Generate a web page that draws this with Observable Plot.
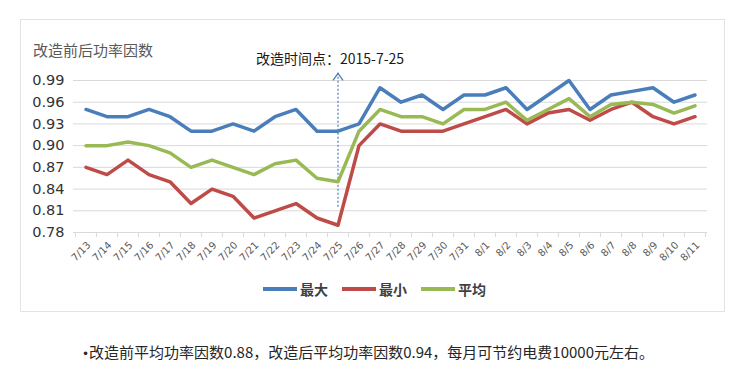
<!DOCTYPE html>
<html><head><meta charset="utf-8">
<script src="https://cdn.jsdelivr.net/npm/d3@7"></script>
<script src="https://cdn.jsdelivr.net/npm/@observablehq/plot@0.6"></script>
<style>
body{margin:0;background:#fff;width:746px;height:369px;position:relative;overflow:hidden;font-family:"Noto Sans CJK SC",sans-serif;}
#box{position:absolute;left:20px;top:19px;width:703px;height:291px;border:1px solid #e3e3e3;}
#title{position:absolute;left:33px;top:39px;font-size:15px;color:#595959;line-height:22px;white-space:nowrap;}
#note{position:absolute;left:256px;top:47px;font-size:14px;color:#1a1a1a;line-height:22px;white-space:nowrap;}
#chart{position:absolute;left:0;top:0;}
#legend{position:absolute;left:263px;top:279px;display:flex;align-items:center;height:20px;}
.item{display:flex;align-items:center;margin-right:14px;}
.swatch{width:34px;height:3.5px;margin-right:3px;}
.lab{font-size:14px;font-weight:bold;color:#404040;line-height:20px;}
#foot{position:absolute;left:82px;top:341px;font-size:15px;color:#262626;line-height:22px;white-space:nowrap;}
#foot .b{font-family:"DejaVu Sans";font-size:12px;}
</style>
</head><body>
<div id="box"></div>
<div id="chart"></div>
<div id="title">改造前后功率因数</div>
<div id="note">改造时间点：2015-7-25</div>
<div id="legend"></div>
<div id="foot"><span class="b">•</span>改造前平均功率因数0.88，改造后平均功率因数0.94，每月可节约电费10000元左右。</div>
<script>
const dates = ["7/13","7/14","7/15","7/16","7/17","7/18","7/19","7/20","7/21","7/22","7/23","7/24","7/25","7/26","7/27","7/28","7/29","7/30","7/31","8/1","8/2","8/3","8/4","8/5","8/6","8/7","8/8","8/9","8/10","8/11"];
const maxVals = [0.95,0.94,0.94,0.95,0.94,0.92,0.92,0.93,0.92,0.94,0.95,0.92,0.92,0.93,0.98,0.96,0.97,0.95,0.97,0.97,0.98,0.95,0.97,0.99,0.95,0.97,0.975,0.98,0.96,0.97];
const minVals = [0.87,0.86,0.88,0.86,0.85,0.82,0.84,0.83,0.80,0.81,0.82,0.80,0.79,0.90,0.93,0.92,0.92,0.92,0.93,0.94,0.95,0.93,0.945,0.95,0.935,0.95,0.96,0.94,0.93,0.94];
const avgVals = [0.90,0.90,0.905,0.90,0.89,0.87,0.88,0.87,0.86,0.875,0.88,0.855,0.85,0.92,0.95,0.94,0.94,0.93,0.95,0.95,0.96,0.935,0.95,0.965,0.94,0.957,0.96,0.957,0.945,0.955];
const seriesNames = ["最大","最小","平均"];
const yTicks = [0.78,0.81,0.84,0.87,0.90,0.93,0.96,0.99];
const changeDate = "7/25";
const arrowFrom = 0.815, arrowTo = 1.0;

const seriesColors = ["#4a7ebb","#be4b48","#98b954"];
const seriesVals = [maxVals, minVals, avgVals];
const rows = seriesNames.flatMap((s, k) => dates.map((d, i) => ({date: d, series: s, value: seriesVals[k][i]})));

const W = 746, H = 270, mL = 73, mR = 39;
const bw = (W - mL - mR) / dates.length;

const chevron = {draw(ctx) { ctx.moveTo(-5, 7); ctx.lineTo(0, 0); ctx.lineTo(5, 7); }};

const chart = Plot.plot({
  width: W, height: H,
  marginLeft: mL, marginRight: mR, marginTop: 80, marginBottom: 38,
  style: {background: "transparent", fontFamily: "DejaVu Sans", overflow: "visible"},
  x: {type: "band", domain: dates, padding: 0, label: null},
  y: {domain: [yTicks[0], yTicks[yTicks.length-1]], label: null},
  color: {domain: seriesNames, range: seriesColors},
  marks: [
    Plot.gridY(yTicks, {stroke: "#d9d9d9", strokeOpacity: 1}),
    Plot.axisY(yTicks, {tickSize: 0, tickPadding: 9, tickFormat: d => d.toFixed(2), fontSize: 14.5, fill: "#333", label: null}),
    Plot.axisX(dates, {tickSize: 5, tickFormat: () => "", dx: -bw/2, stroke: "#d9d9d9", label: null}),
    Plot.axisX([dates[dates.length-1]], {tickSize: 5, tickFormat: () => "", dx: bw/2, stroke: "#d9d9d9", label: null}),
    Plot.axisX(dates, {tickSize: 0, tickPadding: 11, tickRotate: -45, fontSize: 10, fill: "#595959", dx: 3, label: null}),
    Plot.ruleX([changeDate], {x: d => d, y1: arrowFrom, y2: arrowTo, stroke: "#4a7ebb", strokeWidth: 1.2, strokeDasharray: "2,2"}),
    Plot.dot([changeDate], {x: d => d, y: () => arrowTo, symbol: chevron, stroke: "#4a7ebb", fill: "none", strokeWidth: 1.3}),
    Plot.line(rows, {x: "date", y: "value", stroke: "series", strokeWidth: 3.5})
  ]
});
document.getElementById("chart").appendChild(chart);

const leg = document.getElementById("legend");
seriesNames.forEach((s, k) => {
  const it = document.createElement("div"); it.className = "item";
  const sw = document.createElement("div"); sw.className = "swatch"; sw.style.background = seriesColors[k];
  const lb = document.createElement("span"); lb.className = "lab"; lb.textContent = s;
  it.appendChild(sw); it.appendChild(lb); leg.appendChild(it);
});
</script>
</body></html>
